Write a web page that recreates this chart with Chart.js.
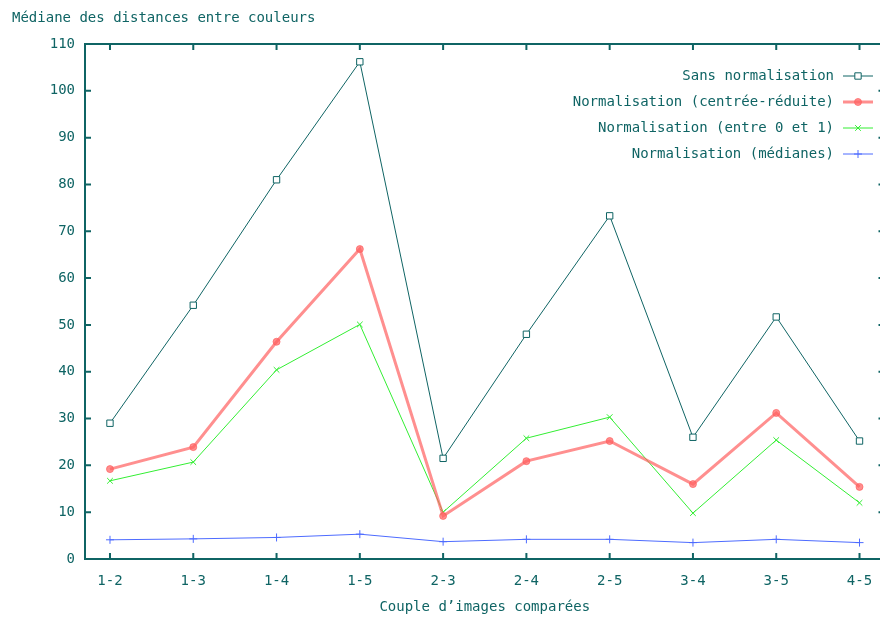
<!DOCTYPE html>
<html>
<head>
<meta charset="utf-8">
<script src="https://cdn.jsdelivr.net/npm/chart.js@4"></script>
<style>
  html, body { margin: 0; padding: 0; background: #fff; overflow: hidden; }
  #wrap { width: 890px; height: 617px; }
</style>
</head>
<body>
<div id="wrap"><canvas id="chart" width="890" height="617"></canvas></div>
<script>
// --- donnees ---
const categories = ['1-2', '1-3', '1-4', '1-5', '2-3', '2-4', '2-5', '3-4', '3-5', '4-5'];
const sansNorm = [29, 54.2, 81, 106.2, 21.5, 48, 73.3, 26, 51.7, 25.2];
const centreeReduite = [19.2, 23.9, 46.4, 66.2, 9.2, 20.9, 25.2, 16, 31.2, 15.4];
const entre0et1 = [16.7, 20.7, 40.4, 50.1, 10, 25.8, 30.3, 9.8, 25.4, 12];
const medianes = [4.1, 4.3, 4.6, 5.3, 3.7, 4.2, 4.2, 3.5, 4.2, 3.5];
const yTicks = [0, 10, 20, 30, 40, 50, 60, 70, 80, 90, 100, 110];

const ink = '#0f6464';
const font = { family: 'DejaVu Sans Mono', size: 14 };

const toPoints = arr => arr.map((v, i) => ({ x: i, y: v }));

const series = [
  { label: 'Sans normalisation', data: sansNorm, color: ink, width: 1, style: 'rect', radius: 4.5, fill: false },
  { label: 'Normalisation (centrée-réduite)', data: centreeReduite, color: 'rgba(255,95,95,0.7)', width: 3, style: 'circle', radius: 3.5, fill: true },
  { label: 'Normalisation (entre 0 et 1)', data: entre0et1, color: '#33ee33', width: 1, style: 'crossRot', radius: 4, fill: false },
  { label: 'Normalisation (médianes)', data: medianes, color: '#4d6bff', width: 1, style: 'cross', radius: 4, fill: false },
];

// cadre, graduations internes, titres et legende facon gnuplot
const gnuplotDeco = {
  id: 'gnuplotDeco',
  afterDraw(chart) {
    const ctx = chart.ctx;
    const a = chart.chartArea;
    const xs = chart.scales.x, ys = chart.scales.y;
    ctx.save();
    ctx.strokeStyle = ink;
    ctx.lineWidth = 2;
    ctx.strokeRect(a.left, a.top, a.right - a.left, a.bottom - a.top);

    ctx.beginPath();
    categories.forEach((c, i) => {
      const px = xs.getPixelForValue(i);
      ctx.moveTo(px, a.bottom); ctx.lineTo(px, a.bottom - 6);
      ctx.moveTo(px, a.top); ctx.lineTo(px, a.top + 6);
    });
    yTicks.forEach(v => {
      const py = ys.getPixelForValue(v);
      ctx.moveTo(a.left, py); ctx.lineTo(a.left + 6, py);
      ctx.moveTo(a.right, py); ctx.lineTo(a.right - 6, py);
    });
    ctx.stroke();

    ctx.fillStyle = ink;
    ctx.font = font.size + 'px ' + font.family;
    ctx.textBaseline = 'middle';
    ctx.textAlign = 'left';
    ctx.fillText('Médiane des distances entre couleurs', 12, 18);
    ctx.textAlign = 'center';
    ctx.fillText('Couple d\u2019images comparées', (a.left + a.right) / 2, 607);

    // legende
    series.forEach((s, k) => {
      const y = 76 + k * 26;
      ctx.fillStyle = ink;
      ctx.textAlign = 'right';
      ctx.fillText(s.label, 834, y);
      ctx.strokeStyle = s.color;
      ctx.lineWidth = s.width;
      ctx.beginPath();
      ctx.moveTo(843, y); ctx.lineTo(873, y);
      ctx.stroke();
      ctx.fillStyle = s.fill ? s.color : '#ffffff';
      ctx.lineWidth = 1;
      Chart.helpers.drawPoint(ctx, {
        pointStyle: s.style, radius: s.radius, borderWidth: 1, rotation: 0
      }, 858, y);
    });
    ctx.restore();
  }
};

new Chart(document.getElementById('chart'), {
  type: 'line',
  data: {
    datasets: series.map(s => ({
      label: s.label,
      data: toPoints(s.data),
      borderColor: s.color,
      backgroundColor: s.fill ? s.color : 'transparent',
      borderWidth: s.width,
      pointStyle: s.style,
      pointRadius: s.radius,
      pointBorderWidth: 1,
      pointBorderColor: s.color,
      pointBackgroundColor: s.fill ? s.color : '#ffffff',
      tension: 0,
    }))
  },
  options: {
    responsive: false,
    animation: false,
    layout: { padding: { left: 0, right: 5, top: 44, bottom: 0 } },
    plugins: { legend: { display: false }, tooltip: { enabled: false } },
    scales: {
      x: {
        type: 'linear',
        min: -0.3,
        max: 9.3,
        grid: { display: false, drawTicks: false },
        border: { display: false },
        afterBuildTicks: scale => { scale.ticks = categories.map((c, i) => ({ value: i })); },
        afterFit: scale => { scale.height = 58; },
        ticks: {
          autoSkip: false,
          maxRotation: 0,
          padding: 14,
          color: ink,
          font,
          callback: v => categories[v]
        }
      },
      y: {
        min: 0,
        max: 110,
        grid: { display: false, drawTicks: false },
        border: { display: false },
        afterBuildTicks: scale => { scale.ticks = yTicks.map(v => ({ value: v })); },
        afterFit: scale => { scale.width = 85; },
        ticks: { padding: 10, color: ink, font }
      }
    }
  },
  plugins: [gnuplotDeco]
});
</script>
</body>
</html>
